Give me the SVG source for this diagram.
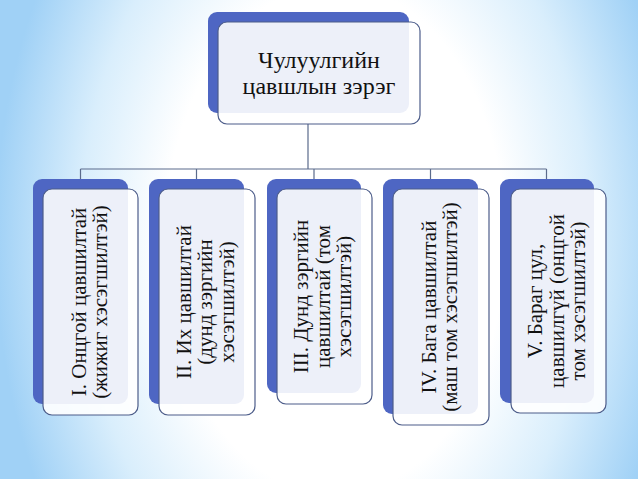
<svg xmlns="http://www.w3.org/2000/svg" width="638" height="479" viewBox="0 0 638 479" font-family="'Liberation Serif', 'Times New Roman', serif">
<defs>
<radialGradient id="bg" gradientUnits="userSpaceOnUse" cx="335" cy="240" r="340" gradientTransform="translate(335 240) scale(1 1.5) translate(-335 -240)">
<stop offset="0" stop-color="#ffffff"/>
<stop offset="0.5" stop-color="#ffffff"/>
<stop offset="0.75" stop-color="#d9eefc"/>
<stop offset="1" stop-color="#a0d1f6"/>
</radialGradient>
<style>
.back{fill:#4e66c3;}
.front{fill:#ffffff;fill-opacity:0.9;stroke:#4d5d8a;stroke-width:1.2;}
.lbl{font-family:'Liberation Serif','Times New Roman',serif;fill:#111111;text-anchor:middle;}
.t1{font-size:24px;}
.t2{font-size:21px;}
.conn{fill:none;stroke:#5b6b8c;stroke-width:1.2;}
</style>
</defs>
<rect x="0" y="0" width="638" height="479" fill="url(#bg)"/>
<g id="connectors">
<path class="conn" d="M308 124 V169 M80.5 169 H546.5 M80.5 169 V179 M196.5 169 V179 M314 169 V179 M430.5 169 V179 M546.5 169 V179"/>
</g>
<g id="root">
<rect class="back" x="208" y="12" width="201" height="101" rx="9"/>
<rect class="front" x="218" y="22" width="202" height="102" rx="9"/>
<text class="lbl t1" font-family="'Liberation Serif', 'Times New Roman', serif" x="319" y="68">Чулуулгийн</text>
<text class="lbl t1" font-family="'Liberation Serif', 'Times New Roman', serif" x="319" y="94">цавшлын зэрэг</text>
</g>
<g id="n1">
<rect class="back" x="33" y="179" width="95" height="225" rx="9"/>
<rect class="front" x="43" y="189" width="95" height="226" rx="9"/>
<text class="lbl t2" transform="translate(90.5 302) rotate(-90)"><tspan x="0" y="-5">I. Онцгой цавшилтай</tspan><tspan x="0" y="16">(жижиг хэсэгшилтэй)</tspan></text>
</g>
<g id="n2">
<rect class="back" x="149" y="179" width="95" height="225" rx="9"/>
<rect class="front" x="159" y="189" width="96" height="226" rx="9"/>
<text class="lbl t2" transform="translate(207 302) rotate(-90)"><tspan x="0" y="-16.5">II. Их цавшилтай</tspan><tspan x="0" y="5">(дунд зэргийн</tspan><tspan x="0" y="26.5">хэсэгшилтэй)</tspan></text>
</g>
<g id="n3">
<rect class="back" x="267" y="179" width="94" height="214" rx="9"/>
<rect class="front" x="277" y="189" width="95" height="215" rx="9"/>
<text class="lbl t2" transform="translate(324.5 296.5) rotate(-90)"><tspan x="0" y="-16.5">III. Дунд зэргийн</tspan><tspan x="0" y="5">цавшилтай (том</tspan><tspan x="0" y="26.5">хэсэгшилтэй)</tspan></text>
</g>
<g id="n4">
<rect class="back" x="383" y="179" width="95" height="235" rx="9"/>
<rect class="front" x="393" y="189" width="96" height="236" rx="9"/>
<text class="lbl t2" transform="translate(441 307) rotate(-90)"><tspan x="0" y="-5">IV. Бага цавшилтай</tspan><tspan x="0" y="16">(маш том хэсэгшилтэй)</tspan></text>
</g>
<g id="n5">
<rect class="back" x="500" y="179" width="94" height="224" rx="9"/>
<rect class="front" x="511" y="189" width="95" height="224" rx="9"/>
<text class="lbl t2" transform="translate(558.5 301) rotate(-90)"><tspan x="0" y="-16.5">V. Бараг цул,</tspan><tspan x="0" y="5">цавшилгүй (онцгой</tspan><tspan x="0" y="26.5">том хэсэгшилтэй)</tspan></text>
</g>
</svg>
